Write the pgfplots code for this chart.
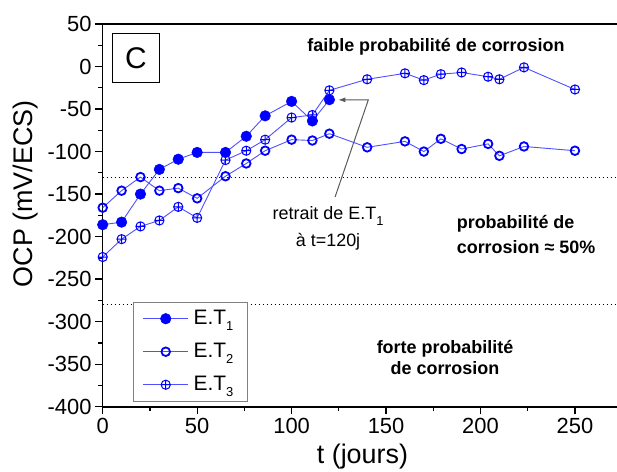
\documentclass[border=0pt]{standalone}
\usepackage{fontspec}
\setmainfont{Liberation Sans}
\usepackage{pgfplots}
\pgfplotsset{compat=1.18}
\usetikzlibrary{arrows.meta}
\definecolor{mk}{RGB}{0,0,255}
\definecolor{ln}{RGB}{80,80,255}
\newcommand{\sub}[1]{\raisebox{-6bp}{\fontsize{13}{13}\selectfont #1}}

\begin{document}
\begin{tikzpicture}
\begin{axis}[
  name=ax,
  scale only axis,
  width=519.5bp, height=382.7bp,
  xmin=0, xmax=275, ymin=-400, ymax=50,
  xtick={0,50,...,250}, ytick={-400,-350,...,50},
  minor x tick num=1, minor y tick num=1,
  tick align=outside, xtick pos=left, ytick pos=left,
  major tick length=7.7bp, minor tick length=4.4bp,
  every tick/.style={black, line width=1.3bp},
  axis line style={black, line width=1.6bp},
  ticklabel style={font=\fontsize{22}{24}\selectfont},
  /pgf/number format/assume math mode=true,
  xlabel={t (jours)}, ylabel={OCP (mV/ECS)},
  label style={font=\fontsize{27}{30}\selectfont},
  xlabel style={at={(axis description cs:0.5,-0.131)}, anchor=center},
  ylabel style={at={(axis description cs:-0.1476,0.556)}, anchor=center, rotate=0},
  legend cell align=left,
  legend image code/.code={\draw[mark repeat=2,mark phase=2,#1] plot coordinates {(0bp,0bp)(22.5bp,0bp)(45bp,0bp)};},
  legend style={at={(axis description cs:0.0589,0.013)}, anchor=south west,
    draw=gray, line width=1bp, font=\fontsize{21}{24}\selectfont,
    inner xsep=9bp, inner ysep=5bp, row sep=10bp,
    nodes={inner ysep=2bp, inner xsep=5bp, text height=15bp, text depth=4bp}},
]
% seuils
\addplot[forget plot, black, line width=0.8bp, dash pattern=on 1.5bp off 2.5bp] coordinates {(0,-130)(275,-130)};
\addplot[forget plot, black, line width=0.8bp, dash pattern=on 1.5bp off 2.5bp] coordinates {(0,-280)(275,-280)};

% E.T1
\addplot[ln, line width=0.9bp, mark=*, mark size=5.3bp, mark options={mk, fill=mk, line width=0.5bp}] coordinates {
(0,-186)(10,-183)(20,-150)(30,-121)(40,-109)(50,-101)(65,-101)(76,-82)(86,-58)(100,-41)(111,-64)(120,-39)};
\addlegendentry{E.T\sub{1}}

% E.T2
\addplot[ln, line width=0.9bp, mark=o, mark size=4.3bp, mark options={mk, fill=white, line width=1.8bp}] coordinates {
(0,-166)(10,-146)(20,-130)(30,-146)(40,-143)(50,-155)(65,-129)(76,-114)(86,-99)(100,-86)(111,-87)(120,-79)
(140,-95)(160,-88)(170,-100)(179,-85)(190,-97)(204,-91)(210,-105)(223,-94)(250,-99)};
\addlegendentry{E.T\sub{2}}

% E.T3
\addplot[ln, line width=0.9bp, mark=oplus, mark size=4.6bp, mark options={mk, fill=white, line width=1bp}] coordinates {
(0,-224)(10,-203)(20,-188)(30,-181)(40,-165)(50,-178)(65,-110)(76,-99)(86,-86)(100,-60)(111,-57)(120,-28)
(140,-15)(160,-8)(170,-16)(179,-9)(190,-7)(204,-12)(210,-15)(223,-1)(250,-27)};
\addlegendentry{E.T\sub{3}}

% annotations
\node[draw=black, line width=1bp, minimum width=46.6bp, minimum height=49.4bp, inner sep=0pt,
  font=\fontsize{30}{30}\selectfont] at (axis cs:17.6,10) {C};
\node[font=\bfseries\fontsize{18}{21}\selectfont] at (axis cs:176.4,23.3) {faible probabilité de corrosion};
\node[font=\bfseries\fontsize{18}{25}\selectfont, align=left, anchor=west] at (axis cs:185.6,-197.2)
  {probabilité de\\corrosion ≈ 50\%};
\node[font=\bfseries\fontsize{18}{21.3}\selectfont, align=center] at (axis cs:181.2,-342)
  {forte probabilité\\de corrosion};
\node[font=\fontsize{18}{26.7}\selectfont, align=center] at (axis cs:119.3,-190.3)
  {retrait de E.T\sub{1}\\à t=120j};
\draw[black!65, line width=1bp, -{Latex[length=7bp,width=5bp]}]
  (axis cs:123,-153.5) -- (axis cs:140.6,-39.2) -- (axis cs:124.7,-39.2);
\end{axis}
\pgfresetboundingbox
\path (ax.south west) ++(-102.7bp,-65.3bp) rectangle ++(617bp,472bp);
\end{tikzpicture}
\end{document}
